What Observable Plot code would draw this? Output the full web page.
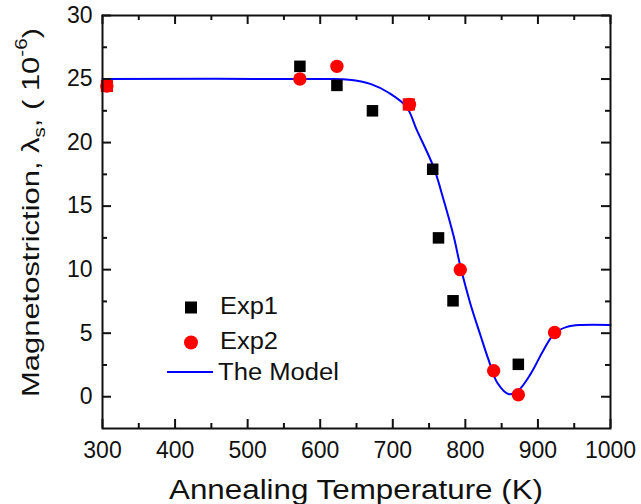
<!DOCTYPE html>
<html><head><meta charset="utf-8">
<script src="https://cdn.jsdelivr.net/npm/d3@7"></script>
<script src="https://cdn.jsdelivr.net/npm/@observablehq/plot@0.6"></script>
<style>
body{margin:0;background:#fff}
#chart svg{font-family:"Liberation Sans",Arial,sans-serif;background:#fff}
</style>
</head><body><div id="chart"></div>
<script>
// Experimental series 1 (black squares)
const exp1T = [306, 572, 623, 672, 722, 755, 763, 783, 873];
const exp1V = [24.45, 26.0, 24.5, 22.5, 23.0, 17.9, 12.5, 7.55, 2.55];
// Experimental series 2 (red circles)
const exp2T = [306, 572, 623, 723, 793, 839, 873, 923];
const exp2V = [24.45, 25.0, 26.0, 23.0, 10.0, 2.05, 0.15, 5.05];
// Model curve
const modelT = [300, 600, 640, 670, 695, 719, 733, 756, 770, 784, 793, 807, 821, 832, 844, 860, 873, 890, 908, 923, 940, 960, 1000];
const modelV = [25, 25, 24.95, 24.6, 23.9, 22.8, 21.0, 18.1, 15.5, 12.6, 10.3, 7.3, 4.8, 2.9, 1.1, 0.2, 0.5, 1.8, 3.7, 5.0, 5.5, 5.65, 5.65];
// Ticks
const xTicks = [300, 400, 500, 600, 700, 800, 900, 1000];
const xMinor = [350, 450, 550, 650, 750, 850, 950];
const yTicks = [0, 5, 10, 15, 20, 25, 30];
const yMinor = [2.5, 7.5, 12.5, 17.5, 22.5, 27.5];
const seriesNames = ["Exp1", "Exp2", "The Model"];
const xTitle = "Annealing Temperature (K)";

const exp1 = exp1T.map((t, i) => ({t, v: exp1V[i]}));
const exp2 = exp2T.map((t, i) => ({t, v: exp2V[i]}));
const model = modelT.map((t, i) => ({t, v: modelV[i]}));
const overlap = exp1.filter(a => exp2.some(b => Math.abs(a.t - b.t) < 3 && Math.abs(a.v - b.v) < 0.3));

const W = 641, H = 504, mt = 15, mr = 31, mb = 76, ml = 102;
const ph = H - mt - mb, pw = W - ml - mr;
const MAJ = 9, MIN = 5;
const ink = "#111";

const plot = Plot.plot({
  width: W, height: H,
  marginTop: mt, marginRight: mr, marginBottom: mb, marginLeft: ml,
  x: {domain: [300, 1000], label: null},
  y: {domain: [-2.5, 30], label: null},
  style: {fontFamily: '"Liberation Sans", Arial, sans-serif', color: ink, background: "#fff"},
  marks: [
    Plot.line(model, {x: "t", y: "v", stroke: "#0000ff", strokeWidth: 2, curve: "catmull-rom"}),
    Plot.dot(exp1, {x: "t", y: "v", symbol: "square", fill: "#000", r: 6.5}),
    Plot.dot(exp2, {x: "t", y: "v", symbol: "circle", fill: "#ff0000", r: 6.7}),
    Plot.dot(overlap, {x: "t", y: "v", symbol: "square", fill: "#ff0000", r: 6.8}),
    // inward ticks on all four sides
    Plot.ruleX(xTicks, {x: d => d, insetTop: ph - MAJ, stroke: ink, strokeWidth: 2}),
    Plot.ruleX(xMinor, {x: d => d, insetTop: ph - MIN, stroke: ink, strokeWidth: 2}),
    Plot.ruleX(xTicks, {x: d => d, insetBottom: ph - MAJ, stroke: ink, strokeWidth: 2}),
    Plot.ruleX(xMinor, {x: d => d, insetBottom: ph - MIN, stroke: ink, strokeWidth: 2}),
    Plot.ruleY(yTicks, {y: d => d, insetRight: pw - MAJ, stroke: ink, strokeWidth: 2}),
    Plot.ruleY(yMinor, {y: d => d, insetRight: pw - MIN, stroke: ink, strokeWidth: 2}),
    Plot.ruleY(yTicks, {y: d => d, insetLeft: pw - MAJ, stroke: ink, strokeWidth: 2}),
    Plot.ruleY(yMinor, {y: d => d, insetLeft: pw - MIN, stroke: ink, strokeWidth: 2}),
    Plot.frame({stroke: ink, strokeWidth: 2}),
    Plot.axisX(xTicks, {tickSize: 0, tickPadding: 13, fontSize: 23, label: null, fill: ink, tickFormat: d => String(d)}),
    Plot.axisY(yTicks, {tickSize: 0, tickPadding: 10, fontSize: 23, label: null, fill: ink, tickFormat: d => String(d)})
  ]
});
document.getElementById("chart").appendChild(plot);

const svg = d3.select(plot);
// x-axis title
svg.append("text")
  .attr("x", ml + pw / 2).attr("y", 490)
  .attr("text-anchor", "middle").attr("dominant-baseline", "central")
  .attr("font-size", 27).attr("fill", ink)
  .attr("textLength", 374).attr("lengthAdjust", "spacingAndGlyphs")
  .text(xTitle);

// y-axis title with sub/superscripts, stretched along its length
const yt = svg.append("text")
  .attr("text-anchor", "middle").attr("dominant-baseline", "central")
  .attr("font-size", 24).attr("fill", ink);
yt.append("tspan").text("Magnetostriction, λ");
yt.append("tspan").attr("baseline-shift", "sub").attr("font-size", 16).text("s");
yt.append("tspan").text(", ( 10");
yt.append("tspan").attr("baseline-shift", "super").attr("font-size", 16).text("-6");
yt.append("tspan").text(")");
const yLen = yt.node().getComputedTextLength() || 300;
const ys = 369 / yLen;
yt.attr("transform", `translate(30,212.5) rotate(-90) scale(${ys},1)`);

// legend
const lg = svg.append("g").attr("font-size", 23).attr("fill", ink).attr("text-anchor", "start");
lg.append("rect").attr("x", 185).attr("y", 301.5).attr("width", 12).attr("height", 12).attr("fill", "#000");
lg.append("circle").attr("cx", 191).attr("cy", 342.5).attr("r", 7).attr("fill", "#ff0000");
lg.append("line").attr("x1", 167).attr("x2", 213).attr("y1", 372).attr("y2", 372).attr("stroke", "#0000ff").attr("stroke-width", 2);
[[220, 306, 58], [220, 341, 58], [218, 372, 121]].forEach(([x, y, len], i) => {
  lg.append("text").attr("x", x).attr("y", y).attr("dominant-baseline", "central")
    .attr("textLength", len).attr("lengthAdjust", "spacingAndGlyphs").text(seriesNames[i]);
});
</script>
</body></html>
